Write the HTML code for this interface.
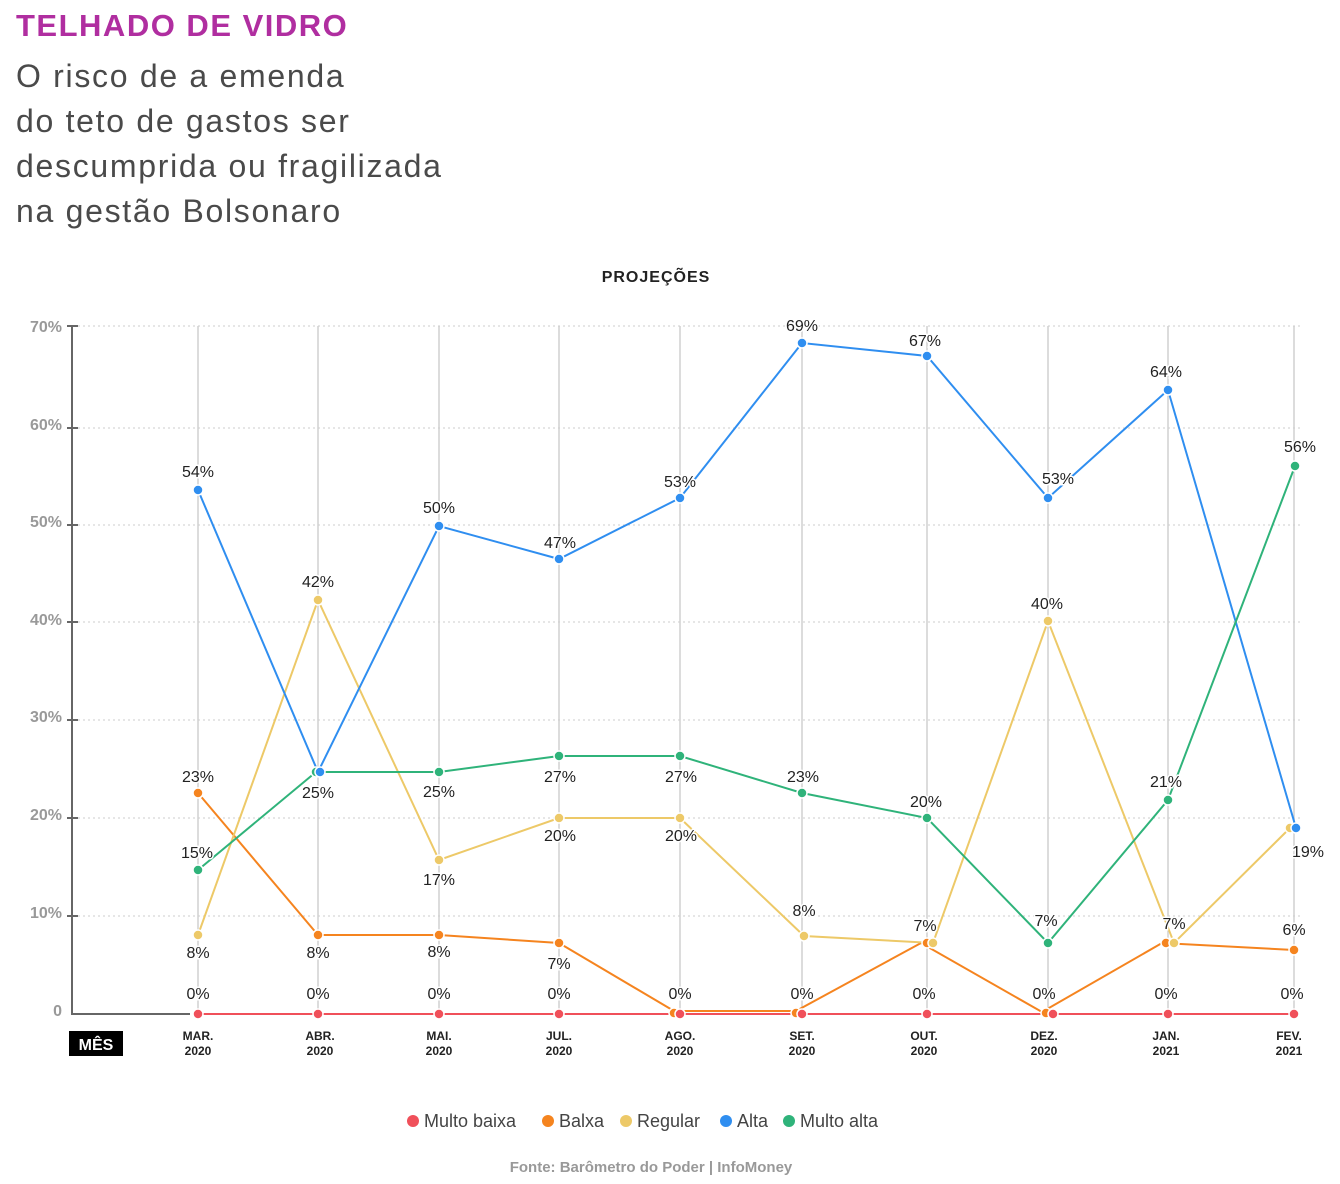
<!DOCTYPE html>
<html><head><meta charset="utf-8">
<style>
html,body{margin:0;padding:0;background:#fff;}
body{width:1340px;height:1184px;position:relative;overflow:hidden;font-family:"Liberation Sans",sans-serif;}
.t{position:absolute;left:16px;top:8px;font-size:31px;font-weight:bold;color:#b02ea0;letter-spacing:1.5px;}
.s{position:absolute;left:16px;top:54px;font-size:32px;line-height:45px;color:#4a4a4a;letter-spacing:1.7px;}
</style></head><body>
<div class="t">TELHADO DE VIDRO</div>
<div class="s">O risco de a emenda<br>do teto de gastos ser<br>descumprida ou fragilizada<br>na gestão Bolsonaro</div>
<svg width="1340" height="1184" style="position:absolute;left:0;top:0" font-family="Liberation Sans, sans-serif">
<text x="656" y="282" text-anchor="middle" font-size="16" font-weight="bold" fill="#222" letter-spacing="1">PROJEÇÕES</text>
<g stroke="#ccc" stroke-dasharray="2,3" stroke-width="1">
<line x1="78" x2="1300" y1="326" y2="326"/><line x1="78" x2="1300" y1="428" y2="428"/><line x1="78" x2="1300" y1="525" y2="525"/><line x1="78" x2="1300" y1="622" y2="622"/><line x1="78" x2="1300" y1="720" y2="720"/><line x1="78" x2="1300" y1="818" y2="818"/><line x1="78" x2="1300" y1="916" y2="916"/>
</g>
<g stroke="#d0d0d0" stroke-width="1.5">
<line x1="198" x2="198" y1="326" y2="1014"/><line x1="318" x2="318" y1="326" y2="1014"/><line x1="439" x2="439" y1="326" y2="1014"/><line x1="559" x2="559" y1="326" y2="1014"/><line x1="680" x2="680" y1="326" y2="1014"/><line x1="802" x2="802" y1="326" y2="1014"/><line x1="927" x2="927" y1="326" y2="1014"/><line x1="1048" x2="1048" y1="326" y2="1014"/><line x1="1168" x2="1168" y1="326" y2="1014"/><line x1="1294" x2="1294" y1="326" y2="1014"/>
</g>
<g stroke="#666" stroke-width="2" fill="none">
<path d="M72 326V1014H190"/>
<path d="M67 326h11M67 428h11M67 525h11M67 622h11M67 720h11M67 818h11M67 916h11"/>
</g>
<g font-size="16" font-weight="bold" fill="#999" text-anchor="end">
<text x="62" y="332">70%</text><text x="62" y="430">60%</text><text x="62" y="527">50%</text><text x="62" y="625">40%</text><text x="62" y="722">30%</text><text x="62" y="820">20%</text><text x="62" y="918">10%</text><text x="62" y="1016">0</text>
</g>
<rect x="69" y="1031" width="54" height="25" fill="#000"/>
<text x="96" y="1050" text-anchor="middle" font-size="16" font-weight="bold" fill="#fff">MÊS</text>
<g font-size="12" font-weight="bold" fill="#222" text-anchor="middle">
<text x="198" y="1040">MAR.</text><text x="198" y="1055">2020</text>
<text x="320" y="1040">ABR.</text><text x="320" y="1055">2020</text>
<text x="439" y="1040">MAI.</text><text x="439" y="1055">2020</text>
<text x="559" y="1040">JUL.</text><text x="559" y="1055">2020</text>
<text x="680" y="1040">AGO.</text><text x="680" y="1055">2020</text>
<text x="802" y="1040">SET.</text><text x="802" y="1055">2020</text>
<text x="924" y="1040">OUT.</text><text x="924" y="1055">2020</text>
<text x="1044" y="1040">DEZ.</text><text x="1044" y="1055">2020</text>
<text x="1166" y="1040">JAN.</text><text x="1166" y="1055">2021</text>
<text x="1289" y="1040">FEV.</text><text x="1289" y="1055">2021</text>
</g>
<g fill="none" stroke-width="2">
<polyline stroke="#f0505a" points="198,1014 318,1014 439,1014 559,1014 680,1014 802,1014 927,1014 1048,1014 1168,1014 1294,1014"/>
<polyline stroke="#f5841f" points="198,793 318,935 439,935 559,943 674,1011 796,1011 921,943 1042,1012 1162,943 1294,950"/>
<polyline stroke="#edc968" points="198,935 318,600 439,860 559,818 680,818 804,936 933,943 1048,621 1174,943 1290,828"/>
<polyline stroke="#2f8ef0" points="198,490 318,772 439,526 559,559 680,498 802,343 927,356 1048,498 1168,390 1296,828"/>
<polyline stroke="#2fb37a" points="198,870 316,772 439,772 559,756 680,756 802,793 927,818 1048,943 1168,800 1295,466"/>
</g>
<g stroke="#fff" stroke-width="1.5">
<g fill="#f0505a"><circle cx="198" cy="1014" r="5"/><circle cx="318" cy="1014" r="5"/><circle cx="439" cy="1014" r="5"/><circle cx="559" cy="1014" r="5"/><circle cx="674" cy="1013" r="5" fill="#f5841f"/><circle cx="680" cy="1014" r="5"/><circle cx="796" cy="1013" r="5" fill="#f5841f"/><circle cx="802" cy="1014" r="5"/><circle cx="927" cy="1014" r="5"/><circle cx="1046" cy="1013" r="5" fill="#f5841f"/><circle cx="1053" cy="1014" r="5"/><circle cx="1168" cy="1014" r="5"/><circle cx="1294" cy="1014" r="5"/></g>
<g fill="#f5841f"><circle cx="198" cy="793" r="5"/><circle cx="318" cy="935" r="5"/><circle cx="439" cy="935" r="5"/><circle cx="559" cy="943" r="5"/><circle cx="927" cy="943" r="5"/><circle cx="1166" cy="943" r="5"/><circle cx="1294" cy="950" r="5"/></g>
<g fill="#edc968"><circle cx="198" cy="935" r="5"/><circle cx="318" cy="600" r="5"/><circle cx="439" cy="860" r="5"/><circle cx="559" cy="818" r="5"/><circle cx="680" cy="818" r="5"/><circle cx="804" cy="936" r="5"/><circle cx="933" cy="943" r="5"/><circle cx="1048" cy="621" r="5"/><circle cx="1174" cy="943" r="5"/><circle cx="1290" cy="828" r="5"/></g>
<g fill="#2fb37a"><circle cx="198" cy="870" r="5"/><circle cx="316" cy="772" r="5"/><circle cx="439" cy="772" r="5"/><circle cx="559" cy="756" r="5"/><circle cx="680" cy="756" r="5"/><circle cx="802" cy="793" r="5"/><circle cx="927" cy="818" r="5"/><circle cx="1048" cy="943" r="5"/><circle cx="1168" cy="800" r="5"/><circle cx="1295" cy="466" r="5"/></g>
<g fill="#2f8ef0"><circle cx="198" cy="490" r="5"/><circle cx="320" cy="772" r="5"/><circle cx="439" cy="526" r="5"/><circle cx="559" cy="559" r="5"/><circle cx="680" cy="498" r="5"/><circle cx="802" cy="343" r="5"/><circle cx="927" cy="356" r="5"/><circle cx="1048" cy="498" r="5"/><circle cx="1168" cy="390" r="5"/><circle cx="1296" cy="828" r="5"/></g>
</g>
<g font-size="16" fill="#222" text-anchor="middle" stroke="#fff" stroke-width="3" paint-order="stroke">
<text x="198" y="477">54%</text><text x="318" y="798">25%</text><text x="439" y="513">50%</text><text x="560" y="548">47%</text><text x="680" y="487">53%</text><text x="802" y="331">69%</text><text x="925" y="346">67%</text><text x="1058" y="484">53%</text><text x="1166" y="377">64%</text><text x="1308" y="857">19%</text>
<text x="197" y="858">15%</text><text x="439" y="797">25%</text><text x="560" y="782">27%</text><text x="681" y="782">27%</text><text x="803" y="782">23%</text><text x="926" y="807">20%</text><text x="1046" y="926">7%</text><text x="1166" y="787">21%</text><text x="1300" y="452">56%</text>
<text x="198" y="958">8%</text><text x="318" y="587">42%</text><text x="439" y="885">17%</text><text x="560" y="841">20%</text><text x="681" y="841">20%</text><text x="804" y="916">8%</text><text x="925" y="931">7%</text><text x="1047" y="609">40%</text><text x="1174" y="929">7%</text>
<text x="198" y="782">23%</text><text x="318" y="958">8%</text><text x="439" y="957">8%</text><text x="559" y="969">7%</text><text x="1294" y="935">6%</text>
<text x="198" y="999">0%</text><text x="318" y="999">0%</text><text x="439" y="999">0%</text><text x="559" y="999">0%</text><text x="680" y="999">0%</text><text x="802" y="999">0%</text><text x="924" y="999">0%</text><text x="1044" y="999">0%</text><text x="1166" y="999">0%</text><text x="1292" y="999">0%</text>
</g>
<g font-size="18" fill="#444">
<circle cx="413" cy="1121" r="6" fill="#f0505a"/><text x="424" y="1127">Multo baixa</text>
<circle cx="548" cy="1121" r="6" fill="#f5841f"/><text x="559" y="1127">Balxa</text>
<circle cx="626" cy="1121" r="6" fill="#edc968"/><text x="637" y="1127">Regular</text>
<circle cx="726" cy="1121" r="6" fill="#2f8ef0"/><text x="737" y="1127">Alta</text>
<circle cx="789" cy="1121" r="6" fill="#2fb37a"/><text x="800" y="1127">Multo alta</text>
</g>
<text x="651" y="1172" text-anchor="middle" font-size="15" font-weight="bold" fill="#999">Fonte: Barômetro do Poder | InfoMoney</text>
</svg>
</body></html>
